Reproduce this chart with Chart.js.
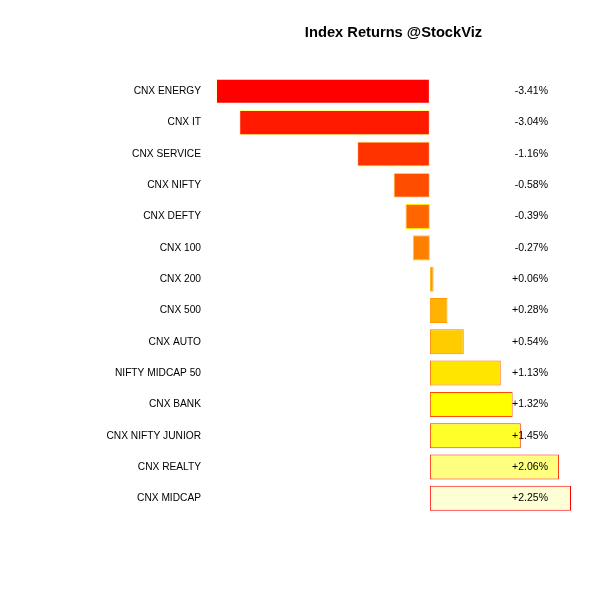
<!DOCTYPE html>
<html>
<head>
<meta charset="utf-8">
<script src="https://cdn.jsdelivr.net/npm/chart.js@4"></script>
<style>
  html, body { margin: 0; padding: 0; background: #fff; }
  #wrap { width: 600px; height: 600px; }
</style>
</head>
<body>
<div id="wrap"><canvas id="chart" width="600" height="600"></canvas></div>
<script>
// index names, top to bottom
const indices = [
    "CNX ENERGY", "CNX IT", "CNX SERVICE", "CNX NIFTY", "CNX DEFTY",
    "CNX 100", "CNX 200", "CNX 500", "CNX AUTO", "NIFTY MIDCAP 50",
    "CNX BANK", "CNX NIFTY JUNIOR", "CNX REALTY", "CNX MIDCAP"
];

// returns in percent
const returns = [
    -3.41, -3.04, -1.16, -0.58, -0.39,
    -0.27, 0.06, 0.28, 0.54, 1.13,
    1.32, 1.45, 2.06, 2.25
];

// heat palette, fill goes one way and border the other
const heat = [
    "#FF0000", "#FF1A00", "#FF3300", "#FF4D00", "#FF6600",
    "#FF8000", "#FF9900", "#FFB300", "#FFCC00", "#FFE600",
    "#FFFF00", "#FFFF2A", "#FFFF80", "#FFFFD5"
];
const edge = heat.slice().reverse();

const fontFamily = "'Liberation Sans', Arial, sans-serif";

function fmt(v) {
    return (v >= 0 ? "+" : "") + v.toFixed(2) + "%";
}

// draws the value column on the right
const valueLabels = {
    id: "valueLabels",
    afterDatasetsDraw(chart) {
        const ctx = chart.ctx;
        const y = chart.scales.y;
        const x = chart.chartArea.right - 23;
        ctx.save();
        ctx.font = "10.5px " + fontFamily;
        ctx.fillStyle = "#000";
        ctx.textAlign = "right";
        ctx.textBaseline = "middle";
        returns.forEach((v, i) => {
            ctx.fillText(fmt(v), x, y.getPixelForValue(i));
        });
        ctx.restore();
    }
};

const ctx = document.getElementById("chart").getContext("2d");

const chart = new Chart(ctx, {
    type: "bar",
    data: {
        labels: indices,
        datasets: [{
            data: returns,
            backgroundColor: heat,
            borderColor: edge,
            borderWidth: 1,
            borderSkipped: false,
            categoryPercentage: 1,
            barPercentage: 0.8
        }]
    },
    options: {
        indexAxis: "y",
        responsive: false,
        animation: false,
        layout: {
            padding: { left: 0, right: 29, top: 0, bottom: 86 }
        },
        plugins: {
            legend: { display: false },
            tooltip: { enabled: false },
            title: {
                display: true,
                text: "Index Returns @StockViz",
                fullSize: false,
                color: "#000",
                font: { family: fontFamily, size: 14.7, weight: "bold" },
                padding: { top: 24, bottom: 34 }
            }
        },
        scales: {
            x: {
                display: false,
                min: -3.41,
                max: 2.25
            },
            y: {
                grid: { display: false, drawTicks: false },
                border: { display: false },
                ticks: {
                    color: "#000",
                    padding: 15,
                    font: { family: fontFamily, size: 10.2 }
                },
                afterFit(scale) {
                    scale.width = 216;
                }
            }
        }
    },
    plugins: [valueLabels]
});
</script>
</body>
</html>
